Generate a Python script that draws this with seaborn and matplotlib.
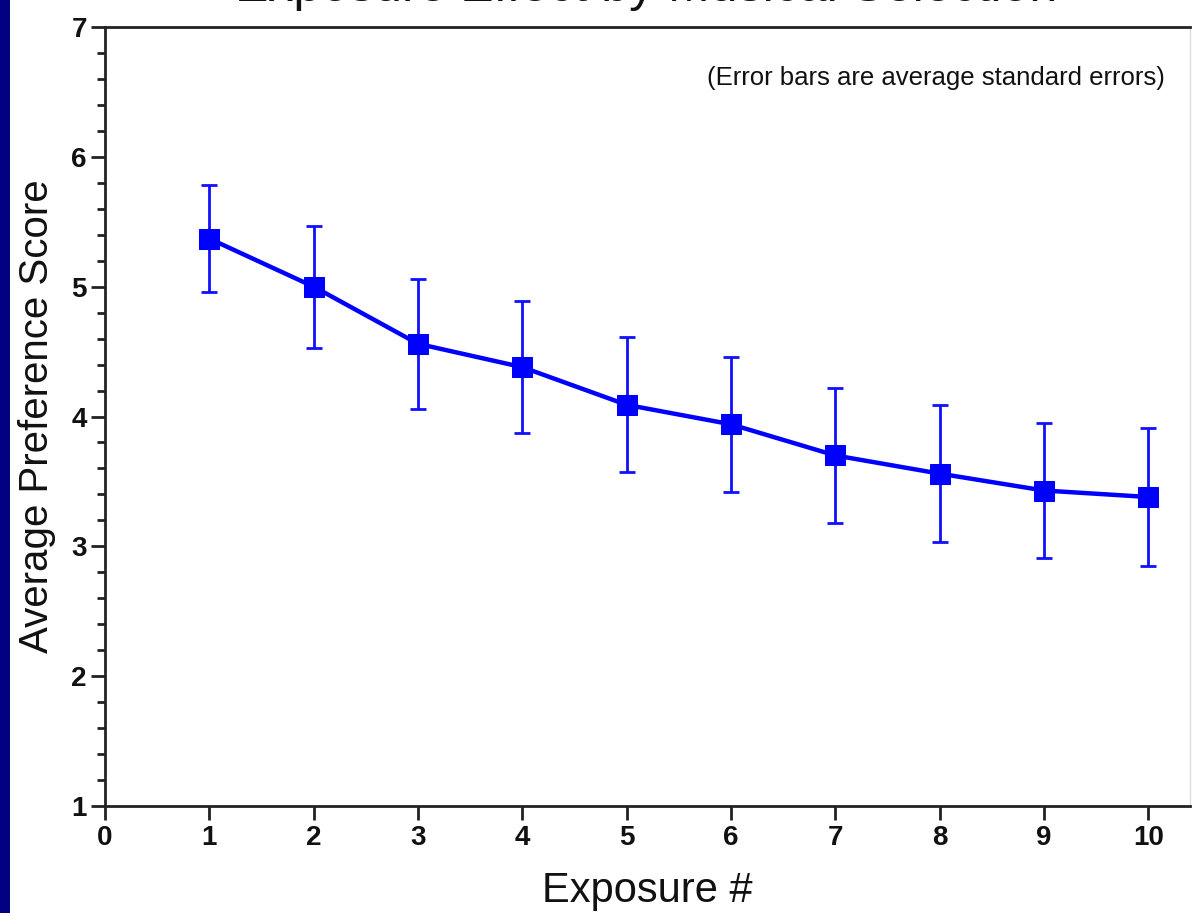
import numpy as np
import pandas as pd
import seaborn as sns
import matplotlib.pyplot as plt
from matplotlib.patches import Rectangle
from matplotlib.ticker import MultipleLocator

exposure = [1, 2, 3, 4, 5, 6, 7, 8, 9, 10]
pref_score = [5.37, 5.00, 4.56, 4.38, 4.09, 3.94, 3.70, 3.56, 3.43, 3.38]
std_err = [0.41, 0.47, 0.50, 0.51, 0.52, 0.52, 0.52, 0.53, 0.52, 0.53]

df = pd.DataFrame({'exposure': exposure, 'score': pref_score, 'se': std_err})

sns.set_style('ticks')
plt.rcParams['font.family'] = ['Liberation Sans', 'DejaVu Sans']

fig = plt.figure(figsize=(11.97, 9.13), dpi=100)
fig.patch.set_facecolor('white')
# dark navy strip on the left edge
fig.patches.append(Rectangle((0, 0), 10 / 1197, 1, transform=fig.transFigure,
                             facecolor='#000080', edgecolor='none', zorder=0))

ax = fig.add_axes([105 / 1197, 1 - 806 / 913, (1190 - 105) / 1197, (806 - 27) / 913])

ax.errorbar(df['exposure'], df['score'], yerr=df['se'], fmt='none',
            ecolor='#1010ff', elinewidth=2, capsize=6, capthick=2, zorder=2)
sns.lineplot(data=df, x='exposure', y='score', ax=ax, color='#0000ff',
             linewidth=3.2, marker='s', markersize=15, markeredgecolor='#0000ff',
             zorder=3)

ax.set_xlim(0, 10.4)
ax.set_ylim(1, 7)
ax.set_xticks(range(0, 11))
ax.yaxis.set_major_locator(MultipleLocator(1))
ax.yaxis.set_minor_locator(MultipleLocator(0.2))
ax.tick_params(axis='both', which='major', length=10, width=2, labelsize=20,
               color='#222222', labelcolor='#111111')
ax.tick_params(axis='x', which='major', pad=4)
ax.tick_params(axis='y', which='major', pad=3)
ax.tick_params(axis='y', which='minor', length=6, width=2, color='#222222')
for lab in ax.get_xticklabels() + ax.get_yticklabels():
    lab.set_fontweight('bold')

for side in ['left', 'bottom', 'top']:
    ax.spines[side].set_linewidth(2)
    ax.spines[side].set_color('#222222')
ax.spines['right'].set_color('#dddddd')
ax.spines['right'].set_linewidth(1)

ax.set_xlabel('Exposure #', fontsize=30, labelpad=14, color='#111111')
ax.set_ylabel('Average Preference Score', fontsize=29, labelpad=11, color='#111111')

ax.text(1060 / 1085, 0.935, '(Error bars are average standard errors)', transform=ax.transAxes,
        ha='right', va='center', fontsize=18.5, color='#111111')

# title is mostly cut off by the top of the image
fig.text(0.54, 1 - 1 / 913, 'Exposure Effect by Musical Selection', ha='center',
         va='baseline', fontsize=36, color='#111111')

fig.savefig('out.png', dpi=100)
